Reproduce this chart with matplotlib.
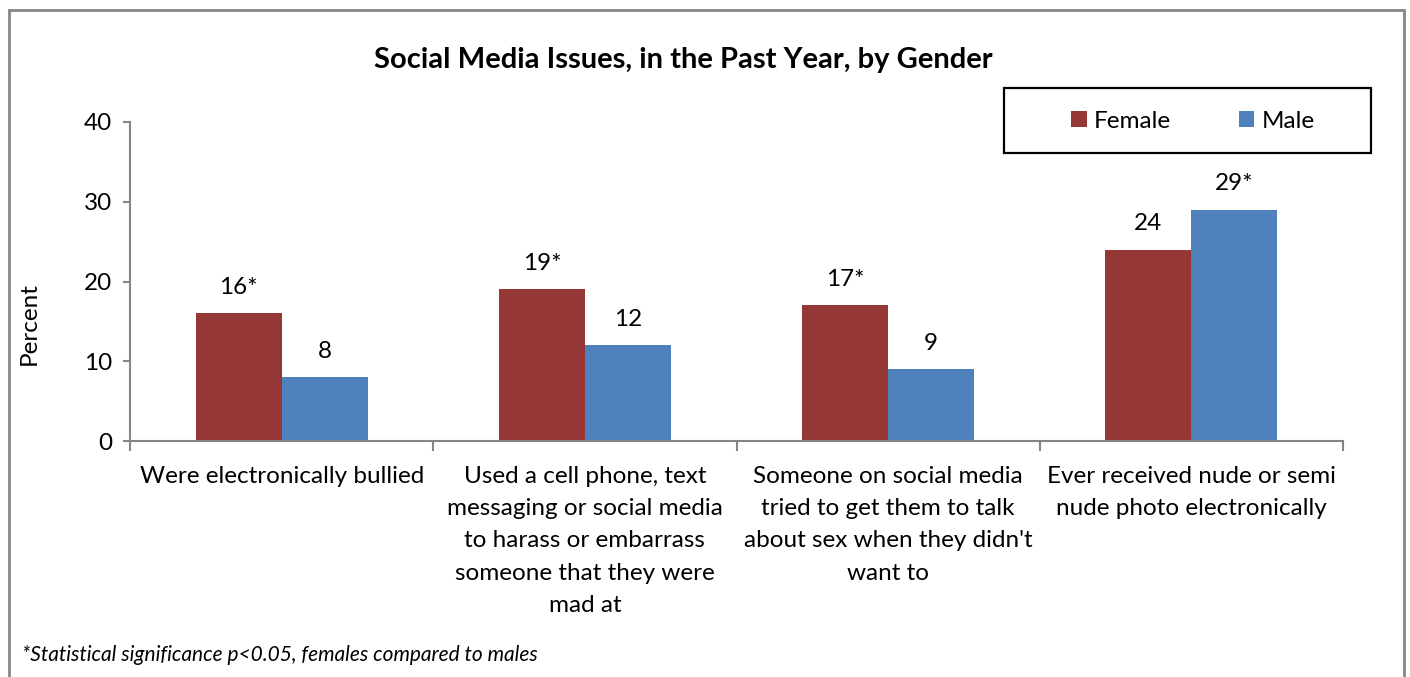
import matplotlib
matplotlib.use("Agg")
import matplotlib.pyplot as plt
from matplotlib.patches import Rectangle
import numpy as np

plt.rcParams['font.family'] = ['Lato', 'DejaVu Sans']

categories = [
    "Were electronically bullied",
    "Used a cell phone, text\nmessaging or social media\nto harass or embarrass\nsomeone that they were\nmad at",
    "Someone on social media\ntried to get them to talk\nabout sex when they didn't\nwant to",
    "Ever received nude or semi\nnude photo electronically",
]
female = [16, 19, 17, 24]
male = [8, 12, 9, 29]
female_labels = ["16*", "19*", "17*", "24"]
male_labels = ["8", "12", "9", "29*"]

W, H = 1410, 677
fig = plt.figure(figsize=(W / 100, H / 100), dpi=100)
ax = fig.add_axes([130 / W, 1 - 441 / H, (1343 - 130) / W, (441 - 122) / H])

x = np.arange(len(categories))
bw = 0.284
b1 = ax.bar(x - bw / 2, female, bw, color='#953735', label='Female')
b2 = ax.bar(x + bw / 2, male, bw, color='#4F81BD', label='Male')

for bars, labs in [(b1, female_labels), (b2, male_labels)]:
    for b, t in zip(bars, labs):
        ax.annotate(t, (b.get_x() + b.get_width() / 2, b.get_height()),
                    xytext=(0, 11), textcoords='offset points',
                    ha='center', va='bottom', fontsize=17.5)

ax.set_xlim(-0.5, 3.5)
ax.set_ylim(0, 40)
ax.set_yticks([0, 10, 20, 30, 40])
ax.tick_params(axis='y', labelsize=17.5, length=5, width=1.5, color='#868686', pad=8)
# category ticks sit on the group boundaries
ax.set_xticks(np.arange(-0.5, 4, 1))
ax.set_xticklabels([])
ax.tick_params(axis='x', length=7, width=1.5, color='#868686')
ax.set_xticks(x, minor=True)
ax.set_xticklabels(categories, minor=True, fontsize=17.5, linespacing=1.66, va='top')
ax.tick_params(axis='x', which='minor', length=0, pad=18)

for s in ['top', 'right']:
    ax.spines[s].set_visible(False)
for s in ['left', 'bottom']:
    ax.spines[s].set_color('#868686')
    ax.spines[s].set_linewidth(1.5)

ax.set_ylabel('Percent', fontsize=17.5)
ax.yaxis.set_label_coords(-0.074, (441 - 324) / 319)

fig.text(683 / W, 1 - 60 / H, 'Social Media Issues, in the Past Year, by Gender',
         ha='center', va='center', fontsize=21, fontweight='bold')
fig.text(22 / W, 1 - 655 / H, '*Statistical significance p<0.05, females compared to males',
         ha='left', va='center', fontsize=15, style='italic')

leg = ax.legend(loc='center', bbox_to_anchor=(1193 / W, 1 - 121 / H),
                bbox_transform=fig.transFigure, ncol=2, fontsize=17.5,
                frameon=False, handlelength=0.62, handleheight=0.62,
                handletextpad=0.3, columnspacing=2.8)
fig.add_artist(Rectangle((1004 / W, 1 - 153 / H), 367 / W, 65 / H,
                         transform=fig.transFigure, fill=False,
                         edgecolor='black', linewidth=1.6))

fig.add_artist(Rectangle((9 / W, -0.02), (1404 - 9) / W, 1.02 - 10 / H,
                         transform=fig.transFigure, fill=False,
                         edgecolor='#868686', linewidth=2))

fig.savefig('out.png', dpi=100)
